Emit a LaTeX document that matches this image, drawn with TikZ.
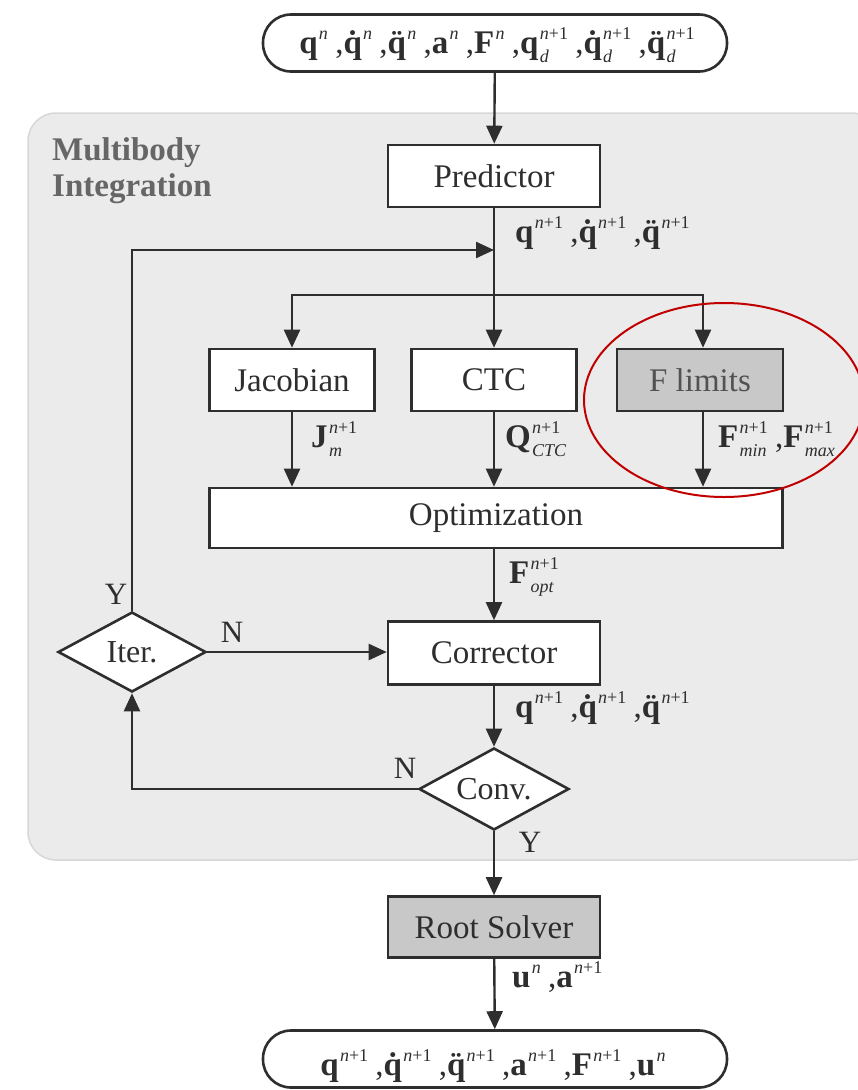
\documentclass[tikz,border=0pt]{standalone}
\usepackage{fontspec}
\setmainfont{Liberation Serif}
\usetikzlibrary{arrows.meta,shapes.geometric}
\definecolor{panel}{HTML}{EAEBEA}
\definecolor{panelline}{HTML}{D6D7D6}
\definecolor{ink}{HTML}{2E2E2E}
\definecolor{boxgray}{HTML}{C8C8C8}
\definecolor{labelgray}{HTML}{666666}
\definecolor{hilite}{HTML}{C00000}
% bold symbol with stacked superscript (#2) and italic subscript (#3)
\newcommand{\vs}[3]{\textbf{#1}\kern.04em%
  \setbox0\hbox{\fontsize{18}{18}\selectfont #2}%
  \setbox2\hbox{\fontsize{18}{18}\selectfont\itshape #3}%
  \dimen0=\wd0 \ifdim\wd2>\dimen0 \dimen0=\wd2 \fi
  \rlap{\raise.42em\box0}\rlap{\lower.3em\box2}\kern\dimen0\relax}
% q with a dot mark centred above it, keeping the width of q
\newcommand{\acq}[1]{\setbox4\hbox{\textbf{q}}\rlap{\hbox to\wd4{\hss\textbf{#1}\hss}}\box4}
\newcommand{\qd}{\acq{˙}}
\newcommand{\qdd}{\acq{¨}}
\newcommand{\np}{\textit{n}+1}
\newcommand{\nn}{\textit{n}}
\newcommand{\cm}{\kern.22em,}
\tikzset{
  every node/.style={text=ink},
  flow/.style={draw=ink, line width=2.4pt},
  arr/.style={flow, -{Triangle[length=18pt,width=16pt]}},
  block/.style={draw=ink, line width=2.6pt, fill=white, minimum height=62pt, font=\fontsize{33}{36}\selectfont, inner sep=0pt},
  grayblock/.style={block, fill=boxgray},
  term/.style={draw=ink, line width=2.6pt, fill=white, rounded corners=28pt, minimum width=464pt, minimum height=57pt},
  decision/.style={diamond, draw=ink, line width=2.6pt, fill=white, aspect=1.8, inner sep=0pt, font=\fontsize{32}{36}\selectfont},
  lbl/.style={anchor=base west, font=\fontsize{33}{36}\selectfont, inner sep=0pt},
  yn/.style={font=\fontsize{31}{34}\selectfont, inner sep=0pt}
}
\begin{document}
\begin{tikzpicture}[x=1pt,y=-1pt]
\useasboundingbox (0,0) rectangle (858,1090);
% integration panel
\draw[fill=panel, draw=panelline, line width=1.5pt, rounded corners=28pt] (28,113) rectangle (880,860);
\node[anchor=base west, align=left, text=labelgray, font=\fontsize{33}{36}\selectfont\bfseries, inner sep=0pt] (title) at (52,196) {Multibody\\Integration};

% terminals
\node[term] (in) at (495,43) {};
\node[term] (out) at (495,1059) {};
\node[lbl, anchor=base] (inl) at (497,53) {\vs{q}{\nn}{}\cm\vs{\qd}{\nn}{}\cm\vs{\qdd}{\nn}{}\cm\vs{a}{\nn}{}\cm\vs{F}{\nn}{}\cm\vs{q}{\np}{d}\cm\vs{\qd}{\np}{d}\cm\vs{\qdd}{\np}{d}};
\node[lbl, anchor=base] (outl) at (493,1075) {\vs{q}{\np}{}\cm\vs{\qd}{\np}{}\cm\vs{\qdd}{\np}{}\cm\vs{a}{\np}{}\cm\vs{F}{\np}{}\cm\vs{u}{\nn}{}};

% blocks
\node[block, minimum width=212pt] (pred) at (494,176) {Predictor};
\node[block, minimum width=165pt] (jac) at (292,380) {Jacobian};
\node[block, minimum width=165pt] (ctc) at (494,380) {CTC};
\node[grayblock, minimum width=166pt, text=labelgray!80!black] (flim) at (700,380) {F limits};
\node[block, minimum width=573pt, minimum height=60pt] (opt) at (496,518) {Optimization};
\node[block, minimum width=212pt, minimum height=63pt] (corr) at (494,653) {Corrector};
\node[grayblock, minimum width=212pt, minimum height=61pt] (root) at (494,927) {Root Solver};

% decisions
\node[decision, minimum width=148pt, minimum height=80pt] (iter) at (132,652) {Iter.};
\node[decision, minimum width=150pt, minimum height=82pt] (conv) at (494,789) {Conv.};

% junctions
\coordinate (jn) at (494,250);
\coordinate (br) at (494,295);

% connectors
\draw[arr] (in) -- (pred);
\draw[flow] (pred) -- (br);
\draw[arr] (br) -- (ctc);
\draw[arr] (br) -| (jac);
\draw[arr] (br) -| ([xshift=3pt]flim.north);
\draw[arr] (jac) -- (jac |- opt.north);
\draw[arr] (ctc) -- (ctc |- opt.north);
\draw[arr] ([xshift=3pt]flim.south) -- ([xshift=3pt]flim.south |- opt.north);
\draw[arr] (opt.south -| corr) -- (corr);
\draw[arr] (iter.east) -- (iter.east -| corr.west);
\draw[arr] (iter.north) |- (jn);
\draw[arr] (corr) -- (conv);
\draw[arr] (conv.west) -| (iter.south);
\draw[arr] (conv) -- (root);
\draw[arr] (root) -- (out);

% signal labels
\node[lbl] (l1) at (515,242) {\vs{q}{\np}{}\cm\vs{\qd}{\np}{}\cm\vs{\qdd}{\np}{}};
\node[lbl] (l2) at (311,447) {\vs{J}{\np}{m}};
\node[lbl] (l3) at (505,447) {\vs{Q}{\np}{CTC}};
\node[lbl] (l4) at (718,447) {\vs{F}{\np}{min}\cm\vs{F}{\np}{max}};
\node[lbl] (l5) at (509,583) {\vs{F}{\np}{opt}};
\node[lbl] (l6) at (515,717) {\vs{q}{\np}{}\cm\vs{\qd}{\np}{}\cm\vs{\qdd}{\np}{}};
\node[lbl] (l7) at (512,987) {\vs{u}{\nn}{}\cm\vs{a}{\np}{}};

% branch labels
\node[yn] (iy) at (116,594) {Y};
\node[yn] (in2) at (232,632) {N};
\node[yn] (cn) at (405,768) {N};
\node[yn] (cy) at (530,842) {Y};

% highlight
\draw[hilite, line width=2pt] (724,400) ellipse [x radius=140pt, y radius=97pt];
\end{tikzpicture}
\end{document}
